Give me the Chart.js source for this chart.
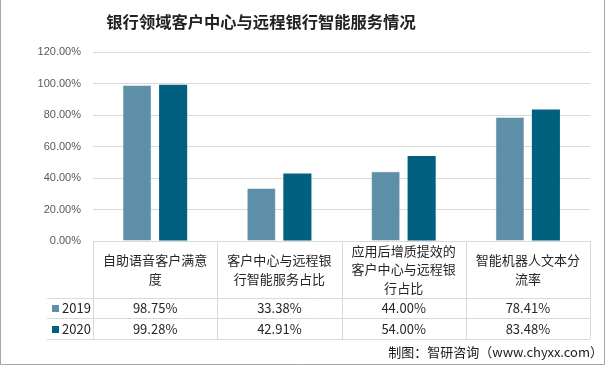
<!DOCTYPE html>
<html>
<head>
  <title>银行领域客户中心与远程银行智能服务情况</title>
  <script src="https://cdn.jsdelivr.net/npm/chart.js"></script>
  <style>
    html, body {
      margin: 0;
      padding: 0;
      background: #ffffff;
    }

    #wrap {
      position: relative;
      width: 606px;
      height: 365px;
    }
  </style>
</head>
<body>
  <div id="wrap">
    <canvas id="bankChart" width="606" height="365"></canvas>
  </div>

  <script>
    const title = "银行领域客户中心与远程银行智能服务情况";
    const source = "制图：智研咨询（www.chyxx.com）";
    const categories = [
      ["自助语音客户满意", "度"],
      ["客户中心与远程银", "行智能服务占比"],
      ["应用后增质提效的", "客户中心与远程银", "行占比"],
      ["智能机器人文本分", "流率"]
    ];
    const seriesNames = ["2019", "2020"];
    const values2019 = [98.75, 33.38, 44.00, 78.41];
    const values2020 = [99.28, 42.91, 54.00, 83.48];
    const colors = ["#5d8fa8", "#00617f"];

    const lineColor = "#d9d9d9";
    const textColor = "#262626";
    const cjkFont = '"Noto Sans CJK SC", "Noto Sans", sans-serif';

    // title, data table under the axis, source note and frame
    const tablePlugin = {
      id: "tablePlugin",
      afterDraw(chart) {
        const ctx = chart.ctx;
        const area = chart.chartArea;
        const x = chart.scales.x;
        const step = (area.right - area.left) / categories.length;
        const top = area.bottom;
        const headBottom = top + 57;
        const row1 = headBottom + 20;
        const row2 = row1 + 21;
        const tableLeft = 47;

        ctx.save();
        ctx.strokeStyle = lineColor;
        ctx.lineWidth = 1;
        ctx.beginPath();
        [headBottom, row1, row2].forEach(y => {
          ctx.moveTo(tableLeft, Math.round(y) + 0.5);
          ctx.lineTo(area.right, Math.round(y) + 0.5);
        });
        for (let i = 0; i <= categories.length; i++) {
          const vx = Math.round(area.left + i * step) + 0.5;
          ctx.moveTo(vx, top);
          ctx.lineTo(vx, row2);
        }
        ctx.stroke();

        // header labels
        ctx.fillStyle = textColor;
        ctx.textAlign = "center";
        ctx.textBaseline = "middle";
        ctx.font = "13px " + cjkFont;
        categories.forEach((lines, i) => {
          const cx = x.getPixelForValue(i);
          const lh = 18.5;
          const mid = (top + headBottom) / 2;
          lines.forEach((t, j) => {
            ctx.fillText(t, cx, mid + (j - (lines.length - 1) / 2) * lh);
          });
        });

        // value rows
        const rows = [values2019, values2020];
        const rowMids = [(headBottom + row1) / 2, (row1 + row2) / 2];
        rows.forEach((vals, r) => {
          const cy = rowMids[r] + 0.5;
          ctx.fillStyle = colors[r];
          ctx.fillRect(52, Math.round(cy - 3.5), 7, 7);
          ctx.fillStyle = textColor;
          ctx.textAlign = "left";
          ctx.font = "13px " + cjkFont;
          ctx.fillText(seriesNames[r], 62, cy);
          ctx.textAlign = "center";
          vals.forEach((v, i) => {
            ctx.fillText(v.toFixed(2) + "%", x.getPixelForValue(i), cy);
          });
        });

        // title
        ctx.fillStyle = "#222222";
        ctx.font = "bold 16.3px " + cjkFont;
        ctx.textAlign = "center";
        ctx.fillText(title, 261, 22);

        // source
        ctx.font = "13px " + cjkFont;
        ctx.textAlign = "right";
        ctx.fillStyle = "#1a1a1a";
        ctx.fillText(source, 603, 352);

        // frame
        ctx.strokeStyle = "#a6a6a6";
        ctx.beginPath();
        ctx.moveTo(0.5, 0);
        ctx.lineTo(0.5, 364.5);
        ctx.lineTo(604.5, 364.5);
        ctx.lineTo(604.5, 0);
        ctx.stroke();
        ctx.restore();
      }
    };

    new Chart(document.getElementById("bankChart"), {
      type: "bar",
      data: {
        labels: categories,
        datasets: [
          {
            label: seriesNames[0],
            data: values2019,
            backgroundColor: colors[0],
            borderColor: "#4f7f97",
            borderWidth: 0.5
          },
          {
            label: seriesNames[1],
            data: values2020,
            backgroundColor: colors[1],
            borderWidth: 0
          }
        ]
      },
      options: {
        responsive: false,
        animation: false,
        layout: {
          padding: { top: 52, right: 16, left: 0, bottom: 0 }
        },
        datasets: {
          bar: {
            categoryPercentage: 0.58,
            barPercentage: 0.78
          }
        },
        plugins: {
          legend: { display: false },
          tooltip: { enabled: false }
        },
        scales: {
          x: {
            grid: { display: false, drawTicks: false },
            ticks: { display: false },
            border: { color: lineColor },
            afterFit(scale) {
              scale.height = 124;
            }
          },
          y: {
            min: 0,
            max: 120,
            ticks: {
              stepSize: 20,
              padding: 12,
              color: "#595959",
              font: { size: 11, family: '"Liberation Sans", Arial, sans-serif' },
              callback: v => v.toFixed(2) + "%"
            },
            grid: { color: lineColor, drawTicks: false },
            border: { display: false },
            afterFit(scale) {
              scale.height = scale.height;
              scale.width = 93;
            }
          }
        }
      },
      plugins: [tablePlugin]
    });
  </script>
</body>
</html>
